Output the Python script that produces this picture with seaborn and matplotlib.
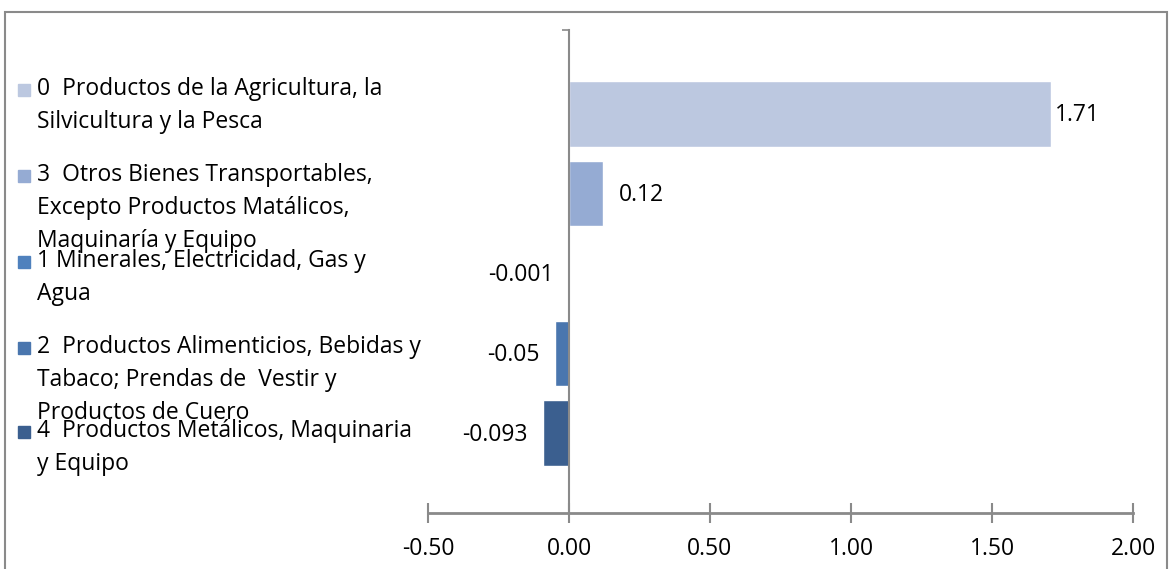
import matplotlib
matplotlib.use("Agg")
import matplotlib.pyplot as plt
from matplotlib.patches import Rectangle
import pandas as pd
import seaborn as sns

categories = [
    "0  Productos de la Agricultura, la\nSilvicultura y la Pesca",
    "3  Otros Bienes Transportables,\nExcepto Productos Matálicos,\nMaquinaría y Equipo",
    "1 Minerales, Electricidad, Gas y\nAgua",
    "2  Productos Alimenticios, Bebidas y\nTabaco; Prendas de  Vestir y\nProductos de Cuero",
    "4  Productos Metálicos, Maquinaria\ny Equipo",
]
values = [1.71, 0.12, -0.001, -0.05, -0.093]
value_labels = ["1.71", "0.12", "-0.001", "-0.05", "-0.093"]
colors = ["#bcc8e0", "#95abd3", "#4f81bd", "#4a76ae", "#3b5f8f"]
xticks = [-0.5, 0.0, 0.5, 1.0, 1.5, 2.0]

df = pd.DataFrame({"cat": categories, "val": values})

sns.set_style("white")
plt.rcParams["font.family"] = ["Open Sans", "DejaVu Sans"]
plt.rcParams["text.color"] = "black"
plt.rcParams["xtick.color"] = "black"
FS = 16.5

W, H = 1170, 569
fig = plt.figure(figsize=(W / 100, H / 100), dpi=100)
ax = fig.add_axes([428 / W, 1 - 513 / H, (1133 - 428) / W, (513 - 30) / H])

sns.barplot(data=df, y="cat", x="val", hue="cat", palette=colors,
            orient="h", width=0.82, legend=False, ax=ax, saturation=1)

ax.set_xlim(-0.5, 2.0)
ax.set_ylim(5.0, -1.05)
ax.set_xlabel("")
ax.set_ylabel("")

grey = "#8a8a8a"
for s in ["top", "right"]:
    ax.spines[s].set_visible(False)
ax.spines["left"].set_position(("data", 0))
ax.spines["left"].set_color(grey)
ax.spines["left"].set_linewidth(1.5)
ax.spines["bottom"].set_color(grey)
ax.spines["bottom"].set_linewidth(2)

ax.set_yticks([-1.05], labels=[""])
ax.tick_params(axis="y", left=True, direction="out", length=5, width=1.2,
               color=grey)
ax.set_xticks(xticks, labels=[f"{t:.2f}" for t in xticks])
ax.tick_params(axis="x", bottom=True, direction="inout", length=14, width=1.5,
               color=grey, labelcolor="black", pad=10, labelsize=FS)

# value labels
for i, (v, lab) in enumerate(zip(values, value_labels)):
    if v >= 0:
        off = 3 if v > 1 else 11.5
        ax.annotate(lab, (v, i), xytext=(off, -1), textcoords="offset points",
                    ha="left", va="center", fontsize=FS)
    else:
        ax.annotate(lab, (v, i), xytext=(-11, -1), textcoords="offset points",
                    ha="right", va="center", fontsize=FS)

# legend on the left
legend_y = [90, 176, 262, 348, 432]
for cat, col, y in zip(categories, colors, legend_y):
    fig.patches.append(Rectangle((18 / W, 1 - (y + 6) / H), 12 / W, 12 / H,
                                 transform=fig.transFigure, color=col))
    fig.text(37 / W, 1 - (y - 13) / H, cat, ha="left", va="top",
             fontsize=FS, linespacing=1.5)

# outer frame
fig.patches.append(Rectangle((5 / W, -0.1), (1167 - 5) / W, 1.1 - 12 / H,
                             transform=fig.transFigure, fill=False,
                             edgecolor=grey, lw=1.5))

fig.savefig("out.png", dpi=100)
